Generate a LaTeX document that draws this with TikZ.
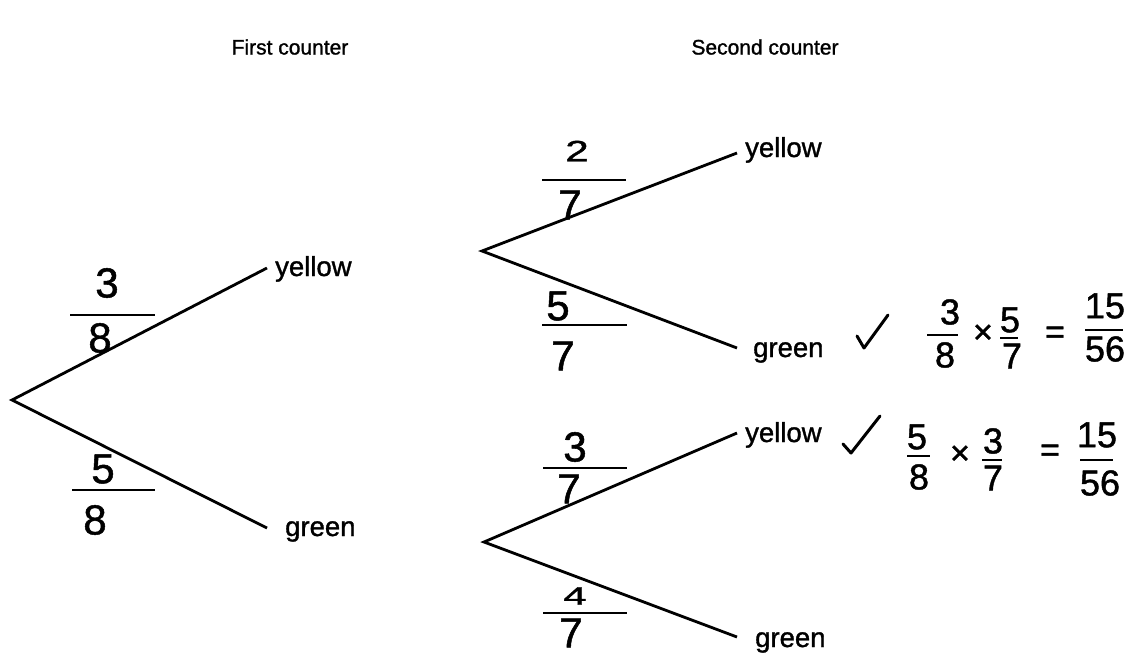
\documentclass[tikz,border=0pt]{standalone}
\usepackage{fontspec}
\usepackage{graphicx}
\setmainfont{Liberation Sans}
\newfontfamily\lblfont[FakeBold=1.2]{Liberation Sans}
\begin{document}
\begin{tikzpicture}[x=1pt,y=-1pt,
  branch/.style={line width=2.8pt},
  fbar/.style={line width=2.4pt},
  tick/.style={line width=3pt,line cap=round,line join=round},
  lbl/.style={inner sep=0pt,font=\lblfont\fontsize{27.5}{32}\selectfont},
  head/.style={inner sep=0pt,font=\lblfont\fontsize{21}{25}\selectfont},
  dig/.style={inner sep=0pt,font=\lblfont\fontsize{42}{46}\selectfont},
  sdig/.style={inner sep=0pt,font=\lblfont\fontsize{36}{40}\selectfont},
  op/.style={inner sep=0pt,font=\lblfont\fontsize{34}{38}\selectfont}]
\path[use as bounding box] (0,0) rectangle (1147,656);
\fill[white] (0,0) rectangle (1147,656);
% headers
\node[head] (h1) at (290,47) {First counter};
\node[head] (h2) at (765,47) {Second counter};
% first tree
\coordinate (r1) at (12,400);
\coordinate (e1y) at (267,268);
\coordinate (e1g) at (267,528);
\node[lbl,anchor=base west] (l1y) at (275,276) {yellow};
\node[lbl,anchor=base west] (l1g) at (285,536) {green};
\draw[branch] (e1y) -- (r1) -- (e1g);
\node[dig] (f1a) at (107,283) {3};
\draw[fbar] (70,315) -- (155,315);
\node[dig] (f1b) at (100,338) {8};
\node[dig] (f2a) at (103,469) {5};
\draw[fbar] (72,490) -- (155,490);
\node[dig] (f2b) at (95,520) {8};
% second tree top
\coordinate (r2) at (482,251);
\coordinate (e2y) at (737,153);
\coordinate (e2g) at (737,348);
\node[lbl,anchor=base west] (l2y) at (745,157) {yellow};
\node[lbl,anchor=base west] (l2g) at (753,357) {green};
\draw[branch] (e2y) -- (r2) -- (e2g);
\node[dig] (f3a) at (577,151) {\scalebox{1}[0.7]{2}};
\draw[fbar] (542,180) -- (626,180);
\node[dig] (f3b) at (570,205) {7};
\node[dig] (f4a) at (558,306) {5};
\draw[fbar] (542,325) -- (627,325);
\node[dig] (f4b) at (563,356) {7};
% second tree bottom
\coordinate (r3) at (484,542);
\coordinate (e3y) at (737,433);
\coordinate (e3g) at (737,637);
\node[lbl,anchor=base west] (l3y) at (745,442) {yellow};
\node[lbl,anchor=base west] (l3g) at (755,647) {green};
\draw[branch] (e3y) -- (r3) -- (e3g);
\node[dig] (f5a) at (575,447) {3};
\draw[fbar] (543,468) -- (627,468);
\node[dig] (f5b) at (569,489) {7};
\node[dig] (f6a) at (575,596) {\scalebox{1}[0.6]{4}};
\draw[fbar] (543,613) -- (627,613);
\node[dig] (f6b) at (571,633) {7};
% ticks
\draw[tick] (857,336) -- (864,348) -- (888,315);
\draw[tick] (843,444) -- (851,453) -- (880,416);
% expression 1
\node[sdig] (a1) at (950,312) {3};
\draw[fbar] (927,335) -- (958,335);
\node[sdig] (a2) at (945,355) {8};
\node[op] (a3) at (983,334) {×};
\node[sdig] (a4) at (1010,320) {5};
\draw[fbar] (1000,338) -- (1018,338);
\node[sdig] (a5) at (1012,356) {7};
\node[op] (a6) at (1055,335) {=};
\node[sdig] (a7) at (1105,306) {15};
\draw[fbar] (1085,330) -- (1123,330);
\node[sdig] (a8) at (1105,349) {56};
% expression 2
\node[sdig] (b1) at (917,437) {5};
\draw[fbar] (907,456) -- (930,456);
\node[sdig] (b2) at (919,477) {8};
\node[op] (b3) at (960,455) {×};
\node[sdig] (b4) at (993,441) {3};
\draw[fbar] (982,460) -- (1002,460);
\node[sdig] (b5) at (993,478) {7};
\node[op] (b6) at (1050,453) {=};
\node[sdig] (b7) at (1097,435) {15};
\draw[fbar] (1080,460) -- (1113,460);
\node[sdig] (b8) at (1100,483) {56};
\end{tikzpicture}
\end{document}
